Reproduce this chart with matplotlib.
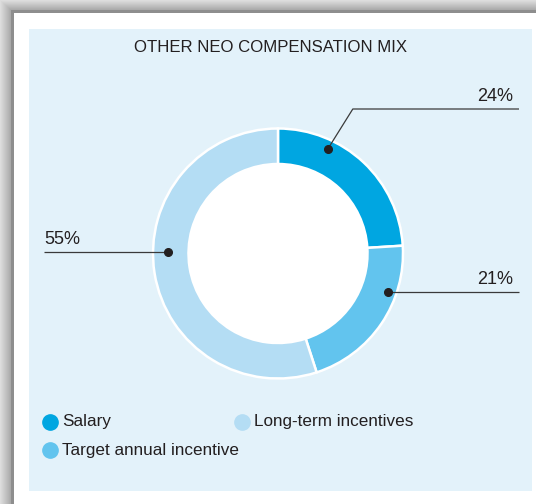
import numpy as np
import matplotlib
matplotlib.use("Agg")
import matplotlib.pyplot as plt
from matplotlib.patches import Rectangle, Circle

# ---- data ----
categories = ["Salary", "Target annual incentive", "Long-term incentives"]
values = [24, 21, 55]
labels = ["24%", "21%", "55%"]
colors = ["#00a6e1", "#62c4ee", "#b4ddf4"]
title = "OTHER NEO COMPENSATION MIX"

W, H = 536, 504
plt.rcParams['font.family'] = ['Liberation Sans', 'DejaVu Sans']
fig = plt.figure(figsize=(W / 100, H / 100), dpi=100)
ax = fig.add_axes([0, 0, 1, 1])
ax.set_xlim(0, W)
ax.set_ylim(0, H)
ax.set_aspect('equal')
ax.axis('off')

def Y(y):
    return H - y

# ---- frame / shadow ----
xx, yy = np.meshgrid(np.arange(W), np.arange(H))
d = np.minimum(xx / 11.0, yy / 10.0)
g = 0.87 - 0.22 * np.clip(d, 0, 1)
img = np.dstack([g, g, g])
ax.imshow(img, extent=(0, W, 0, H), origin='upper', zorder=0)
ax.add_patch(Rectangle((11, 0), W - 11, Y(10), facecolor='#8e8e8e', edgecolor='none', zorder=1))
ax.add_patch(Rectangle((14, 0), W - 14, Y(13), facecolor='white', edgecolor='none', zorder=2))
ax.add_patch(Rectangle((29, Y(491)), 532 - 29, 491 - 29, facecolor='#e3f2fa', edgecolor='none', zorder=3))

text_color = '#231f20'
ax.text(270, Y(48), title, ha='center', va='center', fontsize=12.1, color=text_color, zorder=5)

# ---- donut ----
cx, cy = 278, Y(253.5)
R, width = 125, 35.5
wedges, _ = ax.pie(values, colors=colors, startangle=90, counterclock=False,
                   center=(cx, cy), radius=R,
                   wedgeprops=dict(width=width, edgecolor='white', linewidth=1.8))
for w in wedges:
    w.set_zorder(4)
ax.add_patch(Circle((cx, cy), R - width, facecolor='white', edgecolor='none', zorder=4))
ax.set_xlim(0, W)
ax.set_ylim(0, H)

# ---- leader lines and labels ----
# (anchor angle deg, anchor radius, line y px, line end x px, side)
layout = [
    (64.5, 116, 109, 519, 'right'),
    (-19.4, 117, None, 519, 'right'),
    (179.0, 110, None, 44, 'left'),
]
for lab, (ang, r, ly, ex, side) in zip(labels, layout):
    px = cx + r * np.cos(np.radians(ang))
    py = cy + r * np.sin(np.radians(ang))
    if ly is None:
        pts_x = [px, ex]
        pts_y = [py, py]
        liney = py
    else:
        elbow_x = px + (Y(ly) - py) / np.tan(np.radians(58))
        pts_x = [px, elbow_x, ex]
        pts_y = [py, Y(ly), Y(ly)]
        liney = Y(ly)
    ax.plot(pts_x, pts_y, color='#3a3a3a', lw=0.9, zorder=6, solid_capstyle='butt')
    ax.plot([px], [py], 'o', color='#231f20', ms=5.5, zorder=7)
    if side == 'right':
        ax.text(ex - 6, liney + 4, lab, ha='right', va='bottom', fontsize=13, color=text_color, zorder=7)
    else:
        ax.text(ex, liney + 4, lab, ha='left', va='bottom', fontsize=13, color=text_color, zorder=7)

# ---- legend ----
leg_pos = [(49.5, 421.5), (49.5, 450), (242, 421.5)]
for cat, col, (lx, ly) in zip(categories, colors, leg_pos):
    ax.plot([lx], [Y(ly)], 'o', color=col, ms=11, zorder=6)
    ax.text(lx + 12.5, Y(ly), cat, ha='left', va='center', fontsize=12.3, color=text_color, zorder=6)

fig.savefig('out.png', dpi=100)
